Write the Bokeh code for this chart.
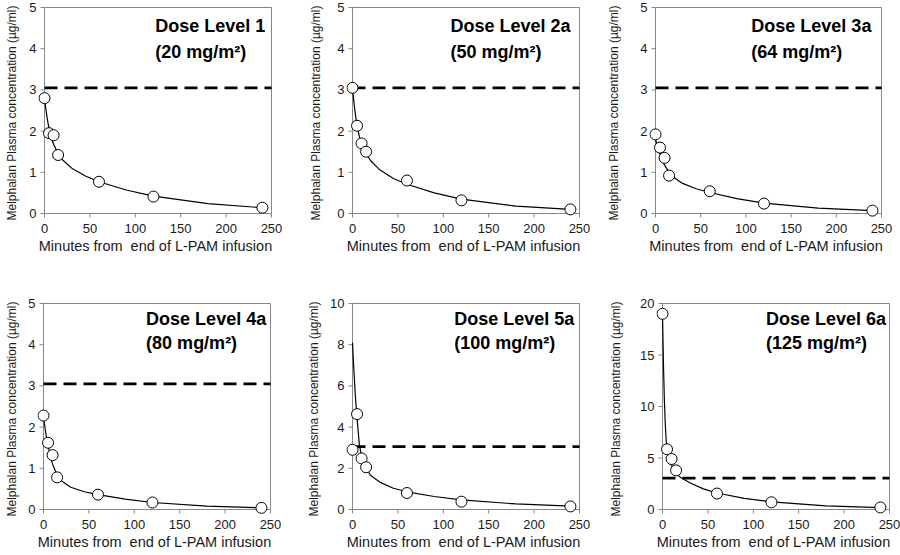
import math
from bokeh.plotting import figure
from bokeh.layouts import column, row
from bokeh.models import Range1d, Label, FixedTicker
from bokeh.embed import file_html
from bokeh.resources import INLINE

# ---------------- data ----------------
minutes = [0, 5, 10, 15, 60, 120, 240]
x_ticks = [0, 50, 100, 150, 200, 250]

dose_titles = ["Dose Level 1", "Dose Level 2a", "Dose Level 3a",
               "Dose Level 4a", "Dose Level 5a", "Dose Level 6a"]
dose_amounts = ["(20 mg/m²)", "(50 mg/m²)", "(64 mg/m²)",
                "(80 mg/m²)", "(100 mg/m²)", "(125 mg/m²)"]

obs_1 = [2.80, 1.95, 1.90, 1.42, 0.77, 0.41, 0.14]
obs_2a = [3.05, 2.13, 1.70, 1.50, 0.80, 0.32, 0.10]
obs_3a = [1.92, 1.60, 1.35, 0.92, 0.54, 0.24, 0.07]
obs_4a = [2.28, 1.62, 1.32, 0.78, 0.36, 0.17, 0.04]
obs_5a = [2.90, 4.63, 2.48, 2.05, 0.80, 0.38, 0.15]
obs_6a = [19.0, 5.85, 4.90, 3.80, 1.55, 0.70, 0.20]

fit_minutes = [0, 1, 2, 3, 4, 5, 7.5, 10, 15, 20, 30, 45, 60, 90, 120, 180, 240]
fit_1 = [2.80, 2.62, 2.46, 2.31, 2.18, 2.06, 1.84, 1.68, 1.45, 1.30, 1.10, 0.91, 0.77, 0.57, 0.42, 0.24, 0.14]
fit_2a = [3.05, 2.82, 2.62, 2.44, 2.28, 2.14, 1.87, 1.68, 1.45, 1.28, 1.06, 0.85, 0.71, 0.50, 0.35, 0.18, 0.10]
fit_3a = [1.80, 1.72, 1.64, 1.57, 1.50, 1.44, 1.30, 1.18, 1.00, 0.88, 0.73, 0.60, 0.51, 0.36, 0.25, 0.13, 0.07]
fit_4a = [2.25, 2.08, 1.93, 1.79, 1.66, 1.55, 1.30, 1.10, 0.84, 0.69, 0.54, 0.43, 0.36, 0.25, 0.17, 0.08, 0.04]
fit_5a = [8.10, 7.20, 6.40, 5.60, 5.00, 4.45, 3.15, 2.60, 2.00, 1.65, 1.33, 1.03, 0.86, 0.63, 0.47, 0.27, 0.16]
fit_6a = [19.0, 14.3, 10.8, 8.40, 6.80, 5.80, 4.90, 4.30, 3.50, 3.10, 2.60, 2.00, 1.60, 1.08, 0.74, 0.36, 0.18]

threshold = 3.05
threshold_minutes = [0, 250]

y_max = [5, 5, 5, 5, 10, 20]
y_step = [1, 1, 1, 1, 2, 5]

observed = [obs_1, obs_2a, obs_3a, obs_4a, obs_5a, obs_6a]
fitted = [fit_1, fit_2a, fit_3a, fit_4a, fit_5a, fit_6a]

# ---------------- layout / style ----------------
FONT = "Liberation Sans"
AXIS_GRAY = "#868686"
TEXT_COL = "#1a1a1a"
X_TITLE = "Minutes from\u00a0 end of L-PAM infusion"
Y_TITLE = "Melphalan Plasma concentration (µg/ml)"

# per panel: width, height, border left/right/top/bottom,
# y-title standoff (sy_), x-title standoff (sx_), x tick-label standoff (lx_)
panel_geom = [
    dict(w=300, h=264, L=38, R=28, T=6, B=45, sy_=7, sx_=2, lx_=4),
    dict(w=300, h=264, L=46, R=20, T=6, B=45, sy_=11, sx_=2, lx_=4),
    dict(w=300, h=264, L=49, R=18, T=6, B=45, sy_=16, sx_=2, lx_=4),
    dict(w=300, h=290, L=37, R=29, T=38, B=39, sy_=6, sx_=2, lx_=4),
    dict(w=300, h=290, L=46, R=20, T=38, B=39, sy_=6, sx_=2, lx_=4),
    dict(w=300, h=290, L=56, R=10, T=38, B=39, sy_=14, sx_=2, lx_=4),
]
# label anchor (data units): left x, line-1 y, line-2 y
label_pos = [
    (122, 4.54, 3.91),
    (108, 4.54, 3.91),
    (106, 4.54, 3.91),
    (113, 4.63, 4.04),
    (112, 9.26, 8.09),
    (114, 18.53, 16.18),
]

PAD_L, PAD_R, PAD_T, PAD_B = 6, 1, 1, 6
TICK_LEN = 4


def make_panel(i):
    g = panel_geom[i]
    frame_w = g["w"] - g["L"] - g["R"]
    frame_h = g["h"] - g["T"] - g["B"]
    sx = (frame_w - PAD_L - PAD_R) / 250.0
    sy = (frame_h - PAD_T - PAD_B) / float(y_max[i])
    p = figure(width=g["w"], height=g["h"], output_backend="svg",
               toolbar_location=None,
               x_range=Range1d(-PAD_L / sx, 250 + PAD_R / sx),
               y_range=Range1d(-PAD_B / sy, y_max[i] + PAD_T / sy),
               min_border_left=g["L"], min_border_right=g["R"],
               min_border_top=g["T"], min_border_bottom=g["B"])
    p.outline_line_color = None
    p.grid.grid_line_color = None
    p.background_fill_color = "white"
    p.border_fill_color = "white"

    y_ticks = list(range(0, y_max[i] + 1, y_step[i]))

    for ax in (p.xaxis[0], p.yaxis[0]):
        ax.axis_line_color = None
        ax.major_tick_line_color = None
        ax.minor_tick_line_color = None
        ax.major_tick_in = 0
        ax.major_tick_out = 0
        ax.minor_tick_in = 0
        ax.minor_tick_out = 0
        ax.major_label_text_font = FONT
        ax.major_label_text_font_size = "13px"
        ax.major_label_text_color = TEXT_COL
        ax.axis_label_text_font = FONT
        ax.axis_label_text_font_style = "normal"
        ax.axis_label_text_color = TEXT_COL
        ax.major_label_standoff = 2

    p.xaxis[0].ticker = FixedTicker(ticks=x_ticks)
    p.xaxis[0].major_label_standoff = g["lx_"]
    p.xaxis[0].axis_label = X_TITLE
    p.xaxis[0].axis_label_text_font_size = "14.5px"
    p.xaxis[0].axis_label_standoff = g["sx_"]

    p.yaxis[0].ticker = FixedTicker(ticks=y_ticks)
    p.yaxis[0].axis_label = Y_TITLE
    p.yaxis[0].axis_label_text_font_size = "12px"
    p.yaxis[0].axis_label_standoff = g["sy_"]

    # plot-area box: axes at 0 plus top / right border
    p.line([0, 0, 250, 250, 0], [y_max[i], 0, 0, y_max[i], y_max[i]],
           line_color=AXIS_GRAY, line_width=1)
    # outward tick marks
    p.scatter([-TICK_LEN / 2.0 / sx] * len(y_ticks), y_ticks, marker="dash",
              size=TICK_LEN, line_color=AXIS_GRAY, line_width=1)
    p.scatter(x_ticks, [-TICK_LEN / 2.0 / sy] * len(x_ticks), marker="dash",
              size=TICK_LEN, angle=math.pi / 2, line_color=AXIS_GRAY, line_width=1)

    # threshold line
    p.line(threshold_minutes, [threshold, threshold], line_color="black",
           line_width=2.8, line_dash="13 7")

    # fitted curve
    p.line(fit_minutes, fitted[i], line_color="black", line_width=1.2)

    # observed points
    p.scatter(minutes, observed[i], size=11, marker="circle",
              fill_color="white", line_color="black", line_width=1)

    lx, ly1, ly2 = label_pos[i]
    for txt, yy in ((dose_titles[i], ly1), (dose_amounts[i], ly2)):
        p.add_layout(Label(x=lx, y=yy, text=txt, text_font=FONT,
                           text_font_size="18px", text_font_style="bold",
                           text_color="black", text_baseline="middle",
                           text_align="left"))
    return p


panels = [make_panel(i) for i in range(6)]
layout = column(row(panels[0], panels[1], panels[2]),
                row(panels[3], panels[4], panels[5]))

open("out.html", "w").write(file_html(layout, INLINE))
